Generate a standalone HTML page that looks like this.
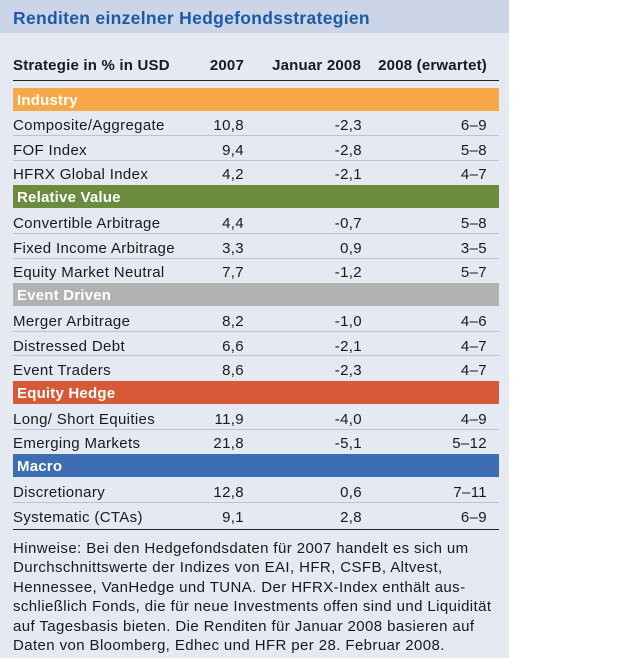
<!DOCTYPE html>
<html><head><meta charset="utf-8"><style>
body{margin:0;width:640px;height:658px;background:#fff;font-family:"Liberation Sans",Arial,sans-serif;position:relative;overflow:hidden}
#panel{position:absolute;left:0;top:0;width:509px;height:658px;background:#e4e9f2}
#title{position:absolute;left:0;top:0;width:509px;height:33px;background:#cbd5e7;color:#1b5ba3;font-weight:bold;font-size:17.5px;letter-spacing:0.3px;line-height:36px;padding-left:13px;box-sizing:border-box}
.t{position:absolute;font-size:15px;letter-spacing:0.35px;color:#1a1a1a;white-space:nowrap;line-height:16px}
.h{font-weight:bold;letter-spacing:0.2px}
.band{position:absolute;left:13px;width:486px;height:23px;color:#fff;font-weight:bold;font-size:15px;letter-spacing:0.2px;line-height:25px;padding-left:4px;box-sizing:border-box}
.sep{position:absolute;left:13px;width:486px;height:1px;background:#b9c4d8}
.r{text-align:right}
#notes{position:absolute;left:13px;top:539px;width:500px;font-size:15px;letter-spacing:0.4px;line-height:19.4px;color:#1a1a1a;white-space:nowrap}
</style></head><body>
<div id="panel">
<div id="title">Renditen einzelner Hedgefondsstrategien</div>
<div class="t h" style="left:13px;top:58px">Strategie in % in USD</div>
<div class="t h r" style="right:265px;top:58px">2007</div>
<div class="t h r" style="right:148px;top:58px">Januar 2008</div>
<div class="t h r" style="right:22px;top:58px">2008 (erwartet)</div>
<div style="position:absolute;left:13px;top:80px;width:486px;height:1px;background:#222"></div>
<div style="position:absolute;left:13px;top:529px;width:486px;height:1px;background:#222"></div>
<div id="rows"></div>
<div id="notes">Hinweise: Bei den Hedgefondsdaten für 2007 handelt es sich um<br>Durchschnittswerte der Indizes von EAI, HFR, CSFB, Altvest,<br>Hennessee, VanHedge und TUNA. Der HFRX-Index enthält aus-<br>schließlich Fonds, die für neue Investments offen sind und Liquidität<br>auf Tagesbasis bieten. Die Renditen für Januar 2008 basieren auf<br>Daten von Bloomberg, Edhec und HFR per 28. Februar 2008.</div>
</div>
<script>
const groups=["Industry","Relative Value","Event Driven","Equity Hedge","Macro"];
const groupColors=["#f7a849","#6b8b3d","#b2b2b2","#d65a38","#3d6db3"];
const names=[["Composite/Aggregate","FOF Index","HFRX Global Index"],["Convertible Arbitrage","Fixed Income Arbitrage","Equity Market Neutral"],["Merger Arbitrage","Distressed Debt","Event Traders"],["Long/ Short Equities","Emerging Markets"],["Discretionary","Systematic (CTAs)"]];
const v2007=[["10,8","9,4","4,2"],["4,4","3,3","7,7"],["8,2","6,6","8,6"],["11,9","21,8"],["12,8","9,1"]];
const vJan=[["-2,3","-2,8","-2,1"],["-0,7","0,9","-1,2"],["-1,0","-2,1","-2,3"],["-4,0","-5,1"],["0,6","2,8"]];
const vExp=[["6\u20139","5\u20138","4\u20137"],["5\u20138","3\u20135","5\u20137"],["4\u20136","4\u20137","4\u20137"],["4\u20139","5\u201312"],["7\u201311","6\u20139"]];
const root=document.getElementById('rows');
const pitch=24.45;let y=87.5;
function txt(s,x,top,right){const d=document.createElement('div');d.className='t'+(right?' r':'');d.textContent=s;d.style.top=top+'px';if(right){d.style.right=(509-x)+'px';}else d.style.left=x+'px';return d;}
groups.forEach((g,gi)=>{
 const b=document.createElement('div');b.className='band';b.textContent=g;b.style.top=y+'px';b.style.background=groupColors[gi];
 
 
 root.appendChild(b);y+=pitch;
 names[gi].forEach((n,i)=>{
  const tt=y+6.5;
  const a=txt(n,13,tt,false);root.appendChild(a);
  const c1=txt(v2007[gi][i],244,tt,true);root.appendChild(c1);
  const c2=txt(vJan[gi][i],362,tt,true);root.appendChild(c2);
  const c3=txt(vExp[gi][i],487,tt,true);root.appendChild(c3);
  if(i<names[gi].length-1){const s=document.createElement('div');s.className='sep';s.style.top=(y+pitch-1)+'px';
   
   
   root.appendChild(s);}
  y+=pitch;
 });
});
</script>
</body></html>
